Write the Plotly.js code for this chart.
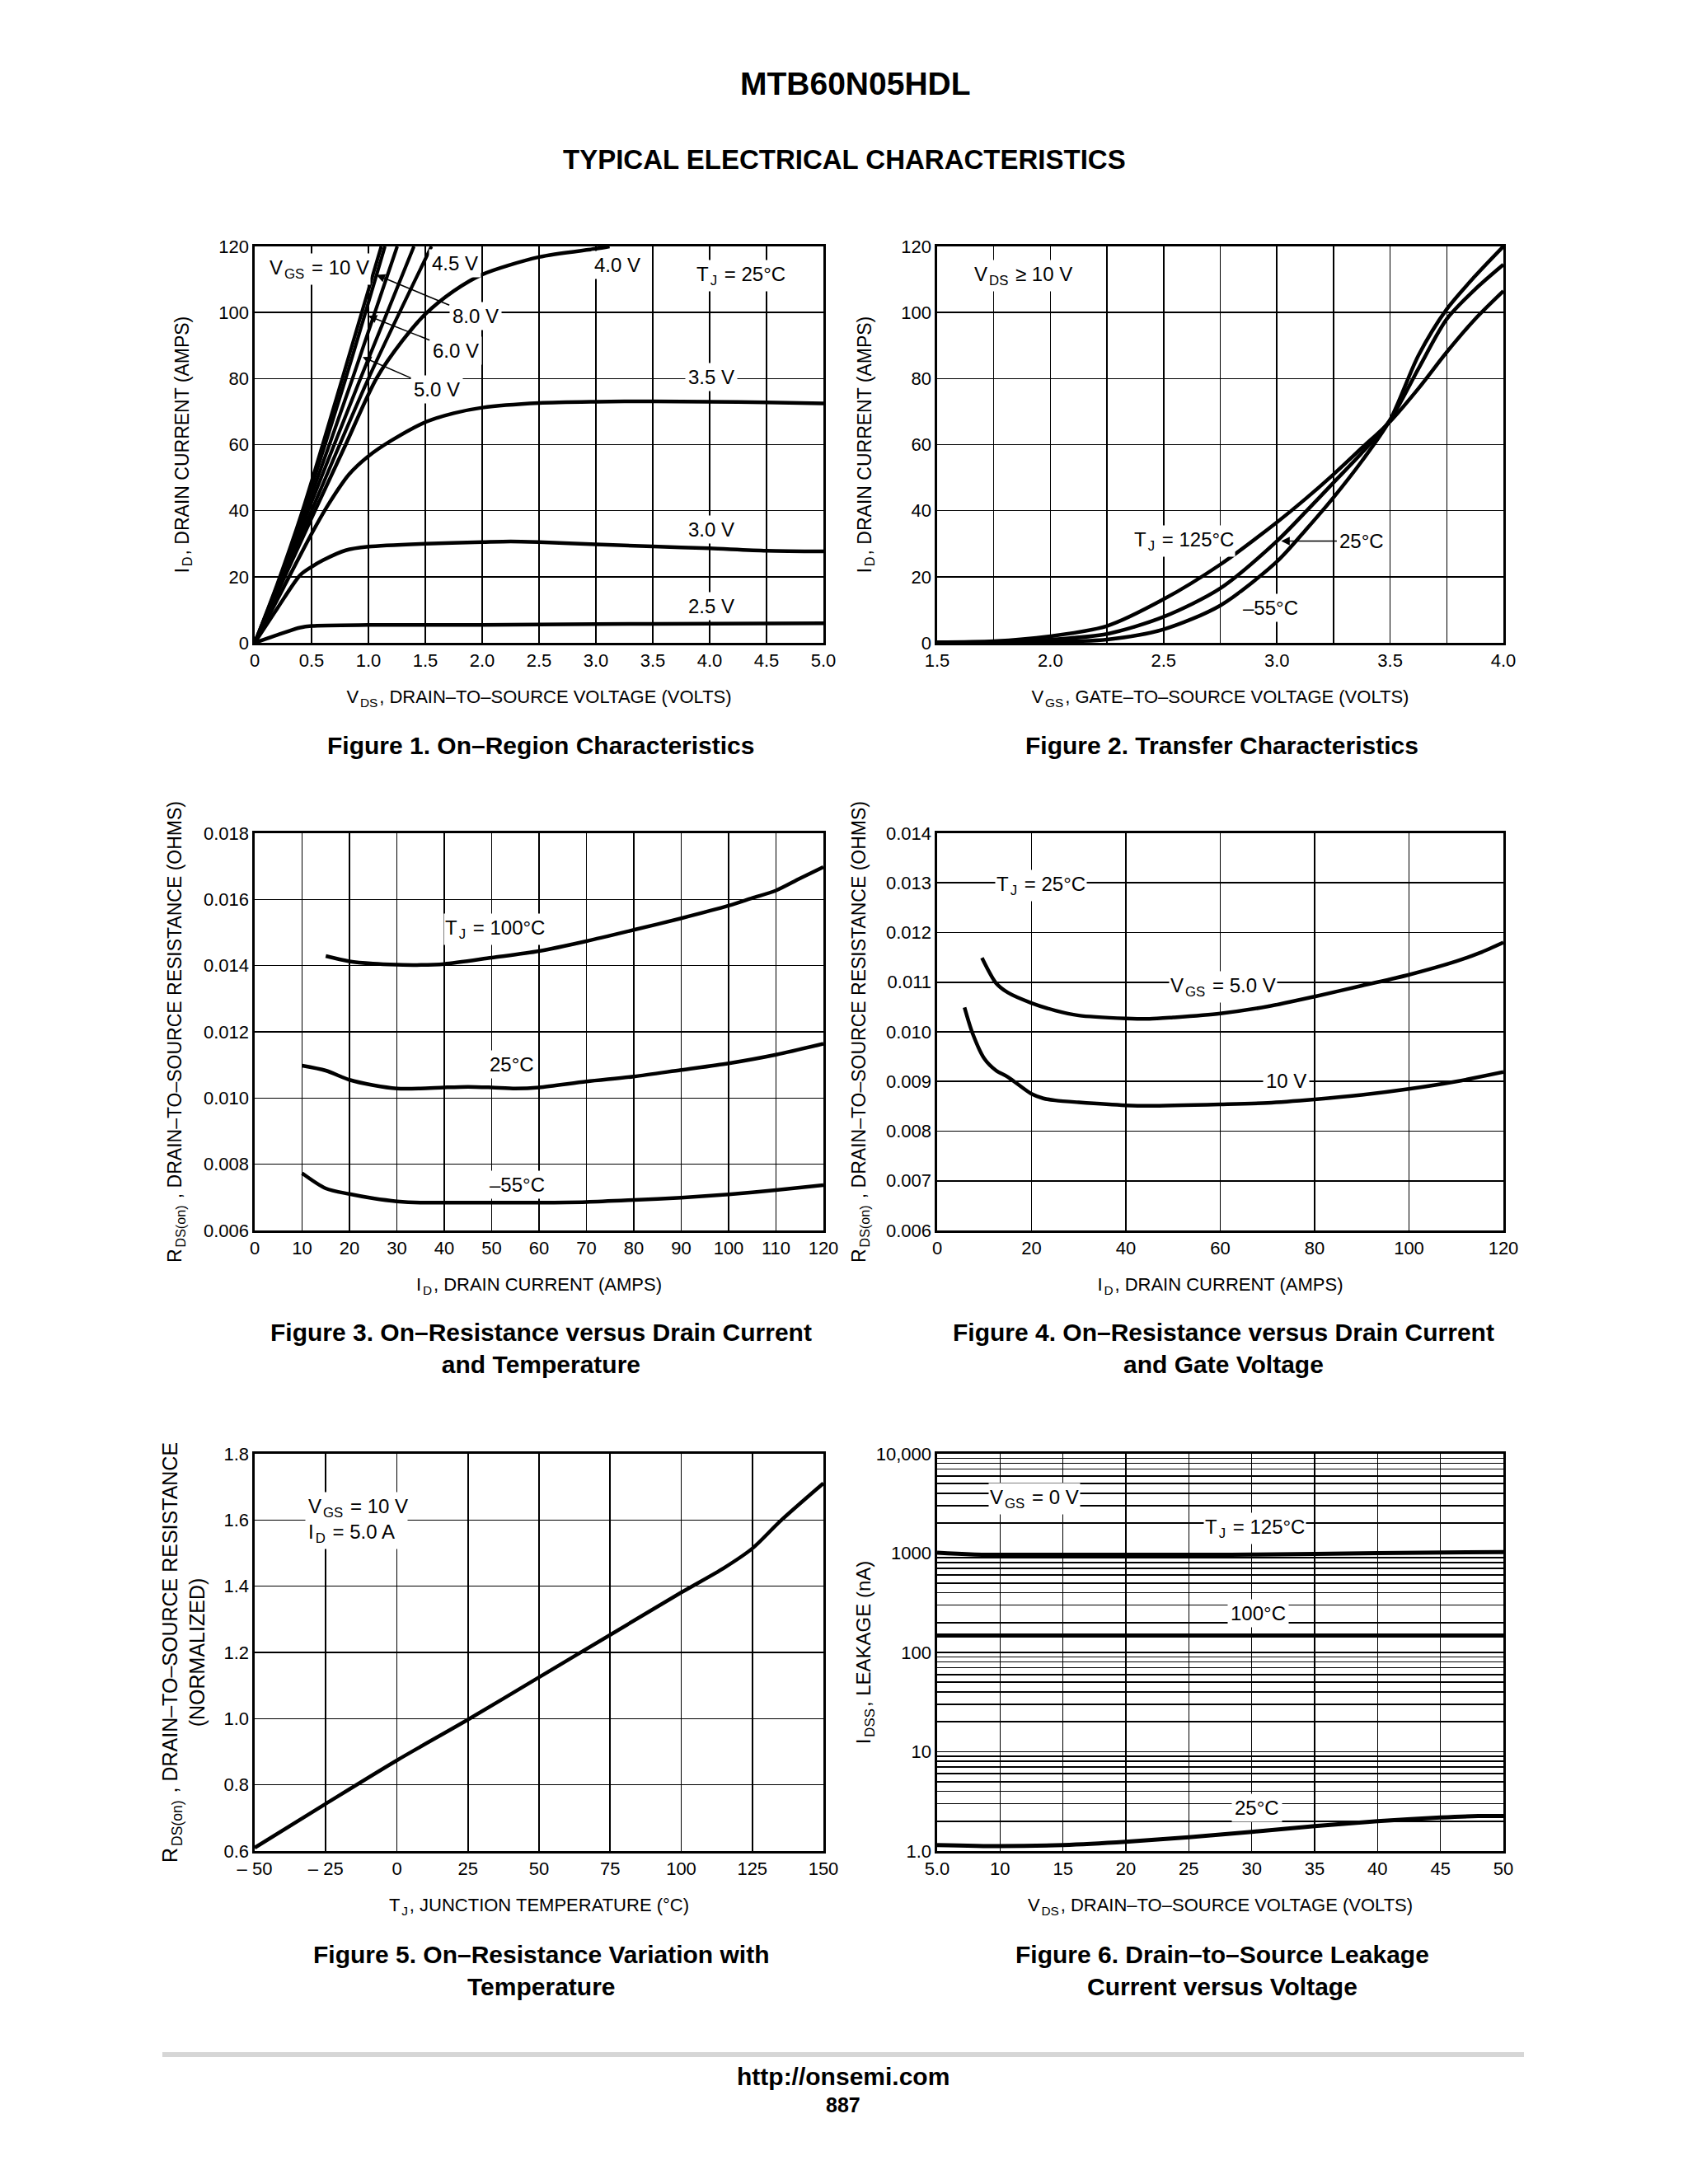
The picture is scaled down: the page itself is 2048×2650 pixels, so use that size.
<!DOCTYPE html>
<html>
<head>
<meta charset="utf-8">
<script src="https://cdn.plot.ly/plotly-3.0.1.min.js"></script>
<style>
html,body{margin:0;padding:0;background:#fff;}
#page{width:2048px;height:2650px;}
</style>
</head>
<body>
<div id="page"></div>
<script>
// ---------------- DATA ----------------
// Figure 1: On-Region Characteristics (VDS volts, ID amps), TJ = 25 C
const f1_vds_10v = [0, 0.2, 0.42, 0.77, 1.113];
const f1_id_10v  = [0, 18, 40, 80, 120];
const f1_vds_8v  = [0, 0.2, 0.43, 0.8, 1.145];
const f1_id_8v   = [0, 17.5, 40, 80, 120];
const f1_vds_6v  = [0, 0.2, 0.45, 0.86, 1.253];
const f1_id_6v   = [0, 17, 40, 80, 120];
const f1_vds_5v  = [0, 0.2, 0.47, 0.93, 1.40];
const f1_id_5v   = [0, 16.5, 40, 80, 120];
const f1_vds_4v5 = [0, 0.2, 0.5, 1.0, 1.554];
const f1_id_4v5  = [0, 16, 40, 80, 120];
const f1_vds_4v  = [0, 0.25, 0.53, 0.8, 1.07, 1.3, 1.5, 1.75, 2.0, 2.5, 3.0, 3.12];
const f1_id_4v   = [0, 19, 40, 60, 80, 91.5, 99.5, 106.5, 111.5, 116.8, 119.3, 120];
const f1_vds_3v5 = [0, 0.25, 0.5, 0.65, 0.83, 1.0, 1.2, 1.5, 1.75, 2.0, 2.5, 3.0, 3.5, 4.0, 4.5, 5.0];
const f1_id_3v5  = [0, 16.5, 33, 42, 51, 56.5, 61.2, 66.8, 69.5, 71.2, 72.6, 73, 73.1, 73, 72.8, 72.5];
const f1_vds_3v  = [0, 0.2, 0.4, 0.5, 0.6, 0.8, 1.0, 1.5, 2.0, 2.25, 2.5, 3.0, 3.5, 4.0, 4.5, 5.0];
const f1_id_3v   = [0, 10.5, 20.5, 23, 25, 28, 29.1, 30, 30.5, 30.7, 30.5, 29.8, 29.2, 28.6, 27.9, 27.7];
const f1_vds_2v5 = [0, 0.2, 0.4, 0.5, 1.0, 2.0, 3.0, 4.0, 5.0];
const f1_id_2v5  = [0, 2.4, 4.6, 5.1, 5.4, 5.4, 5.7, 5.8, 5.9];
const f1_xticks  = [0, 0.5, 1.0, 1.5, 2.0, 2.5, 3.0, 3.5, 4.0, 4.5, 5.0];
const f1_xlabels = ['0','0.5','1.0','1.5','2.0','2.5','3.0','3.5','4.0','4.5','5.0'];
const f1_yticks  = [0, 20, 40, 60, 80, 100, 120];

// Figure 2: Transfer Characteristics (VGS volts, ID amps), VDS >= 10 V
const f2_vgs     = [1.5, 1.75, 2.0, 2.25, 2.5, 2.75, 3.0, 3.125, 3.25, 3.375, 3.5, 3.625, 3.75, 3.875, 4.0];
const f2_id_m55  = [0, 0.05, 0.3, 1.0, 4.1, 11.3, 24.6, 34, 44, 55, 67.5, 87, 101, 111, 120];
const f2_id_25   = [0.05, 0.2, 1.0, 2.7, 7.9, 16.5, 30.8, 39.5, 48.5, 57.5, 67.5, 83, 98, 107, 114.5];
const f2_id_125  = [0.2, 0.5, 2.0, 5.1, 13.2, 23.7, 36.5, 43.5, 51, 59, 67, 77, 88, 98, 106.5];
const f2_xticks  = [1.5, 2.0, 2.5, 3.0, 3.5, 4.0];
const f2_xlabels = ['1.5','2.0','2.5','3.0','3.5','4.0'];
const f2_xminor  = [1.75, 2.25, 2.75, 3.25, 3.75];
const f2_yticks  = [0, 20, 40, 60, 80, 100, 120];

// Figure 3: On-Resistance vs Drain Current and Temperature (ID amps, ohms)
const f3_id_100  = [15, 20, 25, 30, 35, 40, 50, 60, 70, 80, 90, 100, 105, 110, 115, 120];
const f3_r_100   = [0.01429, 0.01413, 0.01406, 0.01403, 0.01402, 0.01405, 0.01424, 0.01444, 0.01474, 0.01508, 0.01543, 0.01581, 0.01604, 0.01627, 0.01663, 0.01698];
const f3_id_25   = [10, 15, 20, 25, 30, 35, 40, 45, 50, 55, 60, 70, 80, 90, 100, 110, 120];
const f3_r_25    = [0.01098, 0.01083, 0.01055, 0.01039, 0.01029, 0.01029, 0.01032, 0.01034, 0.01032, 0.01029, 0.01032, 0.0105, 0.01065, 0.01085, 0.01105, 0.01131, 0.01164];
const f3_id_m55  = [10, 15, 20, 25, 30, 35, 40, 50, 60, 70, 80, 90, 100, 110, 120];
const f3_r_m55   = [0.00773, 0.00727, 0.0071, 0.00697, 0.00688, 0.00684, 0.00684, 0.00684, 0.00684, 0.00686, 0.00692, 0.00699, 0.00709, 0.00722, 0.00737];
const f3_xticks  = [0, 10, 20, 30, 40, 50, 60, 70, 80, 90, 100, 110, 120];
const f3_yticks  = [0.006, 0.008, 0.010, 0.012, 0.014, 0.016, 0.018];

// Figure 4: On-Resistance vs Drain Current and Gate Voltage (ID amps, ohms), TJ = 25 C
const f4_id_5v   = [9.5, 12.5, 15, 20, 25, 30, 40, 45, 50, 60, 70, 80, 90, 100, 110, 115, 120];
const f4_r_5v    = [0.01149, 0.01098, 0.01079, 0.01058, 0.01043, 0.01033, 0.01027, 0.01026, 0.01029, 0.01037, 0.01051, 0.01071, 0.01093, 0.01115, 0.01142, 0.01159, 0.0118];
const f4_id_10v  = [5.8, 7.5, 10, 12.5, 15, 20, 22.5, 25, 30, 40, 45, 60, 70, 80, 90, 100, 110, 120];
const f4_r_10v   = [0.01049, 0.00997, 0.00946, 0.00922, 0.00909, 0.00875, 0.00866, 0.00862, 0.00858, 0.00852, 0.00851, 0.00854, 0.00857, 0.00864, 0.00873, 0.00885, 0.009, 0.00919];
const f4_xticks  = [0, 20, 40, 60, 80, 100, 120];
const f4_yticks  = [0.006, 0.007, 0.008, 0.009, 0.010, 0.011, 0.012, 0.013, 0.014];

// Figure 5: On-Resistance Variation with Temperature (TJ C, normalized)
const f5_tj      = [-50, -25, 0, 25, 50, 75, 100, 115, 125, 135, 150];
const f5_r       = [0.61, 0.743, 0.874, 0.997, 1.125, 1.253, 1.381, 1.455, 1.514, 1.598, 1.711];
const f5_xticks  = [-50, -25, 0, 25, 50, 75, 100, 125, 150];
const f5_xlabels = ['– 50','– 25','0','25','50','75','100','125','150'];
const f5_yticks  = [0.6, 0.8, 1.0, 1.2, 1.4, 1.6, 1.8];

// Figure 6: Drain-to-Source Leakage Current vs Voltage (VDS volts, IDSS nA)
const f6_vds_125 = [5, 10, 20, 30, 40, 50];
const f6_i_125   = [1010, 950, 945, 965, 1000, 1025];
const f6_vds_100 = [5, 20, 35, 50];
const f6_i_100   = [148, 148, 148, 148];
const f6_vds_25  = [5, 10, 15, 20, 25, 30, 35, 40, 45, 48, 50];
const f6_i_25    = [1.15, 1.12, 1.15, 1.24, 1.38, 1.56, 1.78, 2.0, 2.18, 2.25, 2.25];
const f6_xticks  = [5, 10, 15, 20, 25, 30, 35, 40, 45, 50];
const f6_xlabels = ['5.0','10','15','20','25','30','35','40','45','50'];
const f6_decades = [1, 10, 100, 1000, 10000];
const f6_decadeLabels = ['1.0','10','100','1000','10,000'];

// ---------------- LAYOUT HELPERS ----------------
const W = 2048, H = 2650;
const PX = p => p / W;
const PY = p => 1 - p / H;
const colL = [309, 999], colR = [1137, 1824];
const rowT = [299, 780], rowM = [1011, 1493], rowB = [1764, 2246];

const SANS = '"Liberation Sans", Arial, Helvetica, sans-serif';
const TICKFONT = {family: SANS, size: 22, color: '#000'};
const GRID = {showgrid: true, gridcolor: '#000', gridwidth: 1.6};

function xAx(col, anchor, range, tickvals, ticktext, title, extra) {
  return Object.assign({
    domain: [PX(col[0]), PX(col[1])], anchor: anchor, range: range,
    showline: true, mirror: true, linecolor: '#000', linewidth: 2.6,
    showgrid: true, gridcolor: '#000', gridwidth: 1.6, zeroline: false,
    ticks: '', tickmode: 'array', tickvals: tickvals, ticktext: ticktext,
    tickfont: TICKFONT, fixedrange: true,
    title: {text: title, font: {family: SANS, size: 22, color: '#000'}, standoff: 25}
  }, extra || {});
}
function yAx(row, anchor, range, tickvals, ticktext, title, tsize, standoff, extra) {
  return Object.assign({
    domain: [PY(row[1]), PY(row[0])], anchor: anchor, range: range,
    showline: true, mirror: true, linecolor: '#000', linewidth: 2.6,
    showgrid: true, gridcolor: '#000', gridwidth: 1.6, zeroline: false,
    ticks: '', tickmode: 'array', tickvals: tickvals, ticktext: ticktext,
    tickfont: TICKFONT, fixedrange: true,
    title: {text: title, font: {family: SANS, size: tsize, color: '#000'}, standoff: standoff}
  }, extra || {});
}
function curve(x, y, xa, ya, w) {
  return {x: x, y: y, xaxis: xa, yaxis: ya, type: 'scatter', mode: 'lines',
    line: {color: '#000', width: w || 4.5, shape: 'spline', smoothing: 0.8},
    hoverinfo: 'skip', showlegend: false};
}
function lbl(text, xpx, ypx, extra) {
  return Object.assign({
    xref: 'paper', yref: 'paper', x: PX(xpx), y: PY(ypx), text: text,
    showarrow: false, xanchor: 'center', yanchor: 'middle',
    font: {family: SANS, size: 24, color: '#000'}, bgcolor: '#fff', borderpad: 3
  }, extra || {});
}
function arrowLbl(text, xa, ya, hx, hy, ax, ay) {
  return {
    xref: xa, yref: ya, x: hx, y: hy, ax: ax, ay: ay, text: text,
    showarrow: true, arrowhead: 2, arrowsize: 1.3, arrowwidth: 1.6, arrowcolor: '#000',
    font: {family: SANS, size: 24, color: '#000'}, bgcolor: '#fff', borderpad: 3
  };
}
function caption(text, xpx, ypx) {
  return {xref: 'paper', yref: 'paper', x: PX(xpx), y: PY(ypx), text: '<b>' + text + '</b>',
    showarrow: false, xanchor: 'center', yanchor: 'middle',
    font: {family: SANS, size: 30, color: '#000'}};
}
function fmt(arr, d) { return arr.map(v => v.toFixed(d)); }

// minor log gridlines for figure 6 (2..9 x each decade)
const f6_minor = [];
for (let d = 0; d < f6_decades.length - 1; d++) {
  for (let m = 2; m <= 9; m++) f6_minor.push(f6_decades[d] * m);
}

// ---------------- TRACES ----------------
const traces = [
  curve(f1_vds_10v, f1_id_10v, 'x', 'y', 4.2),
  curve(f1_vds_8v, f1_id_8v, 'x', 'y', 4.2),
  curve(f1_vds_6v, f1_id_6v, 'x', 'y', 4.2),
  curve(f1_vds_5v, f1_id_5v, 'x', 'y', 4.2),
  curve(f1_vds_4v5, f1_id_4v5, 'x', 'y', 4.2),
  curve(f1_vds_4v, f1_id_4v, 'x', 'y'),
  curve(f1_vds_3v5, f1_id_3v5, 'x', 'y'),
  curve(f1_vds_3v, f1_id_3v, 'x', 'y'),
  curve(f1_vds_2v5, f1_id_2v5, 'x', 'y'),

  curve(f2_vgs, f2_id_m55, 'x2', 'y2'),
  curve(f2_vgs, f2_id_25, 'x2', 'y2'),
  curve(f2_vgs, f2_id_125, 'x2', 'y2'),

  curve(f3_id_100, f3_r_100, 'x3', 'y3'),
  curve(f3_id_25, f3_r_25, 'x3', 'y3'),
  curve(f3_id_m55, f3_r_m55, 'x3', 'y3'),

  curve(f4_id_5v, f4_r_5v, 'x4', 'y4'),
  curve(f4_id_10v, f4_r_10v, 'x4', 'y4'),

  curve(f5_tj, f5_r, 'x5', 'y5'),

  curve(f6_vds_125, f6_i_125, 'x6', 'y6', 5),
  curve(f6_vds_100, f6_i_100, 'x6', 'y6', 5),
  curve(f6_vds_25, f6_i_25, 'x6', 'y6', 5)
];

// ---------------- LAYOUT ----------------
const layout = {
  width: W, height: H,
  margin: {l: 0, r: 0, t: 0, b: 0},
  paper_bgcolor: '#fff', plot_bgcolor: '#fff',
  showlegend: false,
  font: {family: SANS, color: '#000'},

  xaxis:  xAx(colL, 'y',  [0, 5], f1_xticks, f1_xlabels, 'V<sub>DS</sub>, DRAIN–TO–SOURCE VOLTAGE (VOLTS)'),
  yaxis:  yAx(rowT, 'x',  [0, 120], f1_yticks, f1_yticks.map(String), 'I<sub>D</sub>, DRAIN CURRENT (AMPS)', 23, 30),
  xaxis2: xAx(colR, 'y2', [1.5, 4.0], f2_xticks, f2_xlabels, 'V<sub>GS</sub>, GATE–TO–SOURCE VOLTAGE (VOLTS)',
              {minor: Object.assign({tickmode: 'array', tickvals: f2_xminor, ticks: ''}, GRID)}),
  yaxis2: yAx(rowT, 'x2', [0, 120], f2_yticks, f2_yticks.map(String), 'I<sub>D</sub>, DRAIN CURRENT (AMPS)', 23, 30),
  xaxis3: xAx(colL, 'y3', [0, 120], f3_xticks, f3_xticks.map(String), 'I<sub>D</sub>, DRAIN CURRENT (AMPS)'),
  yaxis3: yAx(rowM, 'x3', [0.006, 0.018], f3_yticks, fmt(f3_yticks, 3), 'R<sub>DS(on)</sub> , DRAIN–TO–SOURCE RESISTANCE (OHMS)', 23, 20),
  xaxis4: xAx(colR, 'y4', [0, 120], f4_xticks, f4_xticks.map(String), 'I<sub>D</sub>, DRAIN CURRENT (AMPS)'),
  yaxis4: yAx(rowM, 'x4', [0.006, 0.014], f4_yticks, fmt(f4_yticks, 3), 'R<sub>DS(on)</sub> , DRAIN–TO–SOURCE RESISTANCE (OHMS)', 23, 18),
  xaxis5: xAx(colL, 'y5', [-50, 150], f5_xticks, f5_xlabels, 'T<sub>J</sub>, JUNCTION TEMPERATURE (°C)'),
  yaxis5: yAx(rowB, 'x5', [0.6, 1.8], f5_yticks, fmt(f5_yticks, 1), 'R<sub>DS(on)</sub> , DRAIN–TO–SOURCE RESISTANCE<br>(NORMALIZED)', 25, 16),
  xaxis6: xAx(colR, 'y6', [5, 50], f6_xticks, f6_xlabels, 'V<sub>DS</sub>, DRAIN–TO–SOURCE VOLTAGE (VOLTS)'),
  yaxis6: yAx(rowB, 'x6', [0, 4], f6_decades, f6_decadeLabels, 'I<sub>DSS</sub>, LEAKAGE (nA)', 24, 0,
              {type: 'log', minor: Object.assign({tickmode: 'array', tickvals: f6_minor, ticks: ''}, GRID)}),

  shapes: [
    {type: 'rect', xref: 'paper', yref: 'paper', x0: PX(197), x1: PX(1849), y0: PY(2496), y1: PY(2490),
     fillcolor: '#d6d6d6', line: {width: 0}}
  ],

  annotations: [
    // page header / footer
    {xref: 'paper', yref: 'paper', x: PX(1038), y: PY(101), text: '<b>MTB60N05HDL</b>', showarrow: false,
     xanchor: 'center', yanchor: 'middle', font: {family: SANS, size: 39, color: '#000'}},
    {xref: 'paper', yref: 'paper', x: PX(1024), y: PY(194), text: '<b>TYPICAL ELECTRICAL CHARACTERISTICS</b>', showarrow: false,
     xanchor: 'center', yanchor: 'middle', font: {family: SANS, size: 33, color: '#000'}},
    {xref: 'paper', yref: 'paper', x: PX(1023), y: PY(2519), text: '<b>http://onsemi.com</b>', showarrow: false,
     xanchor: 'center', yanchor: 'middle', font: {family: SANS, size: 30, color: '#000'}},
    {xref: 'paper', yref: 'paper', x: PX(1023), y: PY(2554), text: '<b>887</b>', showarrow: false,
     xanchor: 'center', yanchor: 'middle', font: {family: SANS, size: 25, color: '#000'}},

    // captions
    caption('Figure 1. On–Region Characteristics', 656, 904),
    caption('Figure 2. Transfer Characteristics', 1482, 904),
    caption('Figure 3. On–Resistance versus Drain Current<br>and Temperature', 656, 1636),
    caption('Figure 4. On–Resistance versus Drain Current<br>and Gate Voltage', 1484, 1636),
    caption('Figure 5. On–Resistance Variation with<br>Temperature', 657, 2391),
    caption('Figure 6. Drain–to–Source Leakage<br>Current versus Voltage', 1483, 2391),

    // Figure 1 labels
    lbl('V<sub>GS</sub> = 10 V', 325, 327, {xanchor: 'left'}),
    lbl('4.5 V', 552, 320),
    lbl('4.0 V', 749, 321),
    lbl('T<sub>J</sub> = 25°C', 899, 335),
    lbl('3.5 V', 863, 458),
    lbl('3.0 V', 863, 642),
    lbl('2.5 V', 863, 735),
    arrowLbl('8.0 V', 'x', 'y', 1.070, 111.4, 120, 50),
    arrowLbl('6.0 V', 'x', 'y', 0.998, 99.0, 106, 42),
    arrowLbl('5.0 V', 'x', 'y', 0.949, 86.5, 90, 39),

    // Figure 2 labels
    lbl('V<sub>DS</sub> ≥ 10 V', 1241, 335),
    lbl('T<sub>J</sub> = 125°C', 1436, 656),
    arrowLbl('25°C', 'x2', 'y2', 3.019, 30.8, 98, 0),
    lbl('–55°C', 1541, 737),

    // Figure 3 labels
    lbl('T<sub>J</sub> = 100°C', 600, 1127),
    lbl('25°C', 621, 1291),
    lbl('–55°C', 627, 1437),

    // Figure 4 labels
    lbl('T<sub>J</sub> = 25°C', 1263, 1074),
    lbl('V<sub>GS</sub> = 5.0 V', 1484, 1197),
    lbl('10 V', 1560, 1311),

    // Figure 5 labels
    lbl('V<sub>GS</sub> = 10 V<br>I<sub>D</sub> = 5.0 A', 370, 1845, {xanchor: 'left', align: 'left'}),

    // Figure 6 labels
    lbl('V<sub>GS</sub> = 0 V', 1255, 1818),
    lbl('T<sub>J</sub> = 125°C', 1522, 1854),
    lbl('100°C', 1526, 1957),
    lbl('25°C', 1525, 2193)
  ]
};

Plotly.newPlot('page', traces, layout, {displayModeBar: false, staticPlot: true}).then(function (gd) {
  // Plotly pads each subscript with zero-width spaces; give them a hair space so no text node is sizeless.
  const walker = document.createTreeWalker(gd, NodeFilter.SHOW_TEXT, null);
  const nodes = [];
  while (walker.nextNode()) nodes.push(walker.currentNode);
  nodes.forEach(function (n) {
    if (n.data.indexOf('\u200b') !== -1) n.data = n.data.replace(/\u200b/g, '\u200a');
  });
});
</script>
</body>
</html>
